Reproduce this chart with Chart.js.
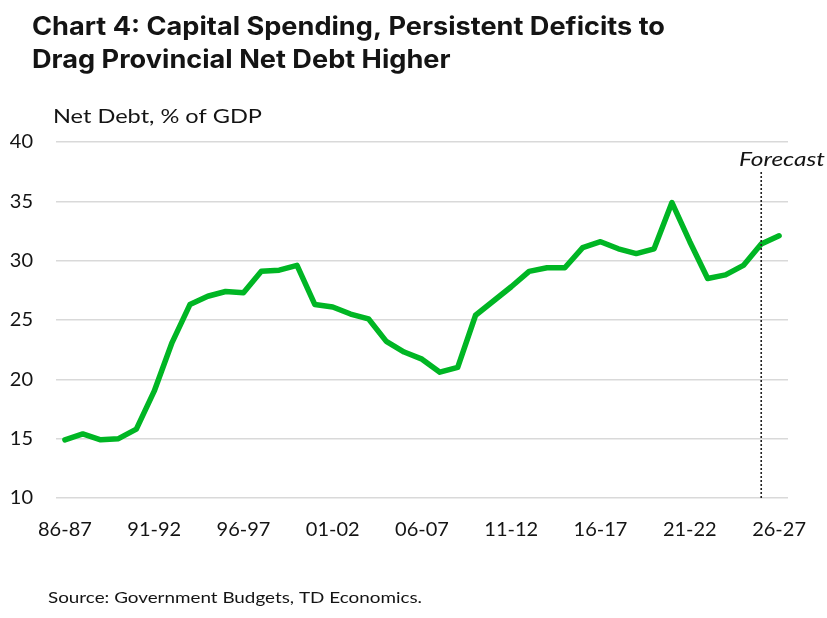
<!DOCTYPE html>
<html>
<head>
<meta charset="utf-8">
<script src="https://cdn.jsdelivr.net/npm/chart.js@4"></script>
<style>
  html, body { margin: 0; padding: 0; background: #fff; }
  #wrap { position: relative; width: 827px; height: 618px; }
</style>
</head>
<body>
<div id="wrap"><canvas id="c"></canvas></div>
<script>
const categories = ["86-87","87-88","88-89","89-90","90-91","91-92","92-93","93-94","94-95","95-96",
  "96-97","97-98","98-99","99-00","00-01","01-02","02-03","03-04","04-05","05-06",
  "06-07","07-08","08-09","09-10","10-11","11-12","12-13","13-14","14-15","15-16",
  "16-17","17-18","18-19","19-20","20-21","21-22","22-23","23-24","24-25","25-26","26-27"];
const netDebt = [14.9,15.4,14.9,15.0,15.8,19.0,23.1,26.3,27.0,27.4,
  27.3,29.1,29.2,29.6,26.3,26.1,25.5,25.1,23.2,22.3,
  21.7,20.6,21.0,25.4,26.6,27.8,29.1,29.4,29.4,31.1,
  31.6,31.0,30.6,31.0,34.9,31.6,28.5,28.8,29.6,31.4,32.1];
const yTicks = [10,15,20,25,30,35,40];
const titleLines = ["Chart 4: Capital Spending, Persistent Deficits to","Drag Provincial Net Debt Higher"];
const yAxisTitle = "Net Debt, % of GDP";
const sourceText = "Source: Government Budgets, TD Economics.";
const forecastLabel = "Forecast";
const forecastStart = "25-26";

const FONT = "Lato, 'Noto Sans', sans-serif";
const TXT = "#141414";

function fitText(ctx, text, x, y, font, targetW) {
  ctx.save();
  ctx.font = font;
  const w = ctx.measureText(text).width;
  const s = targetW / w;
  ctx.translate(x, y);
  ctx.scale(s, 1);
  ctx.fillText(text, 0, 0);
  ctx.restore();
  return s;
}

const annotations = {
  id: 'annotations',
  afterDraw(chart) {
    const ctx = chart.ctx;
    const xs = chart.scales.x, ys = chart.scales.y;
    ctx.save();
    ctx.fillStyle = TXT;
    ctx.textBaseline = 'alphabetic';
    ctx.textAlign = 'left';
    // title
    ctx.font = "bold 25px Inter, " + FONT;
    const w1 = ctx.measureText(titleLines[0]).width;
    const s = 633 / w1;
    [35, 68].forEach((by, i) => {
      ctx.save();
      ctx.translate(32, by);
      ctx.scale(s, 1);
      ctx.fillText(titleLines[i], 0, 0);
      ctx.restore();
    });
    // y axis title
    fitText(ctx, yAxisTitle, 53, 123, "20px " + FONT, 209);
    // source
    fitText(ctx, sourceText, 48, 603, "16px " + FONT, 374);
    // forecast line
    const fx = xs.getPixelForValue(categories.indexOf(forecastStart));
    ctx.beginPath();
    ctx.setLineDash([2, 2]);
    ctx.lineWidth = 1.6;
    ctx.strokeStyle = "#222";
    ctx.moveTo(fx, 172);
    ctx.lineTo(fx, ys.getPixelForValue(10));
    ctx.stroke();
    ctx.setLineDash([]);
    fitText(ctx, forecastLabel, 739, 166, "italic 20px " + FONT, 86);
    ctx.restore();
  }
};

new Chart(document.getElementById('c'), {
  type: 'line',
  data: {
    labels: categories,
    datasets: [{
      data: netDebt,
      borderColor: '#00b624',
      borderWidth: 5.5,
      pointRadius: 0,
      tension: 0,
      fill: false,
      borderJoinStyle: 'round',
      borderCapStyle: 'round'
    }]
  },
  options: {
    responsive: true,
    maintainAspectRatio: false,
    animation: false,
    layout: { padding: { left: 0, right: 39, top: 142, bottom: 80 } },
    plugins: { legend: { display: false }, tooltip: { enabled: false }, title: { display: false } },
    scales: {
      x: {
        offset: true,
        grid: { display: false, drawTicks: false },
        border: { display: false },
        afterFit(s) { s.height = 40; },
        ticks: {
          autoSkip: false,
          maxRotation: 0,
          padding: 20,
          color: TXT,
          font: { family: FONT, size: 20 },
          callback(v, i) { return i % 5 === 0 ? categories[i] : ''; }
        }
      },
      y: {
        min: 10, max: 40,
        afterFit(s) { s.width = 56; },
        afterBuildTicks(s) { s.ticks = yTicks.map(v => ({ value: v })); },
        grid: { color: '#d9d9d9', lineWidth: 1.5, drawTicks: false },
        border: { display: false },
        ticks: {
          padding: 23,
          color: TXT,
          font: { family: FONT, size: 20 }
        }
      }
    }
  },
  plugins: [annotations]
});
</script>
</body>
</html>
